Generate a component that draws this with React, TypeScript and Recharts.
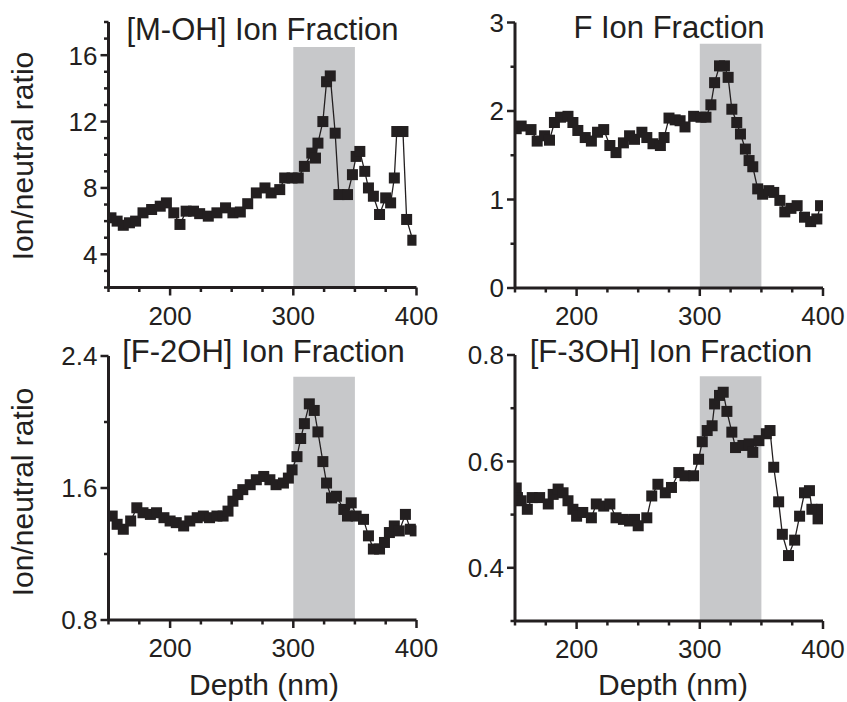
import React from "react";
import { LineChart, Line, XAxis, YAxis, ReferenceArea } from "recharts";

const INK = "#231f20";
const SHADE = "#c7c8ca";
const FONT = "'Liberation Sans', Arial, Helvetica, sans-serif";

// shared depth axis
const depthTicks = [150, 175, 200, 225, 250, 275, 300, 325, 350, 375, 400];
const depthLabels = [200, 300, 400];
const shadeFrom = 300;
const shadeTo = 350;

// [M-OH] ion fraction
const mohDepth = [152, 157, 162, 167, 172, 178, 185, 192, 197, 203, 208, 213, 219, 224, 231, 238, 245, 251, 257, 263, 270, 277, 282, 289, 293, 299, 304, 309, 315, 318, 320, 324, 327, 330, 334, 337, 344, 348, 351, 354, 358, 361, 365, 370, 375, 379, 382, 384, 389, 392, 397];
const mohRatio = [6.2, 6.0, 5.75, 5.9, 6.0, 6.5, 6.7, 6.9, 7.1, 6.5, 5.8, 6.6, 6.6, 6.45, 6.3, 6.5, 6.8, 6.5, 6.55, 7.05, 7.7, 8.0, 7.7, 7.9, 8.6, 8.6, 8.6, 9.3, 10.1, 9.8, 10.7, 12.0, 14.4, 14.75, 11.3, 7.6, 7.6, 8.8, 9.9, 10.2, 9.0, 8.0, 7.5, 6.4, 7.4, 7.1, 8.6, 11.4, 11.4, 6.1, 4.85];
const mohTicks = [2, 3, 4, 5, 6, 7, 8, 9, 10, 11, 12, 13, 14, 15, 16, 17, 18];
const mohLabels = [4, 8, 12, 16];

// F ion fraction
const fDepth = [151, 155, 163, 168, 174, 178, 182, 187, 193, 197, 201, 207, 212, 217, 222, 227, 232, 238, 243, 247, 253, 257, 262, 268, 271, 275, 280, 284, 288, 295, 301, 305, 309, 312, 316, 320, 323, 326, 330, 333, 337, 340, 343, 347, 351, 356, 360, 365, 369, 374, 379, 385, 390, 395, 398];
const fRatio = [1.8, 1.83, 1.79, 1.66, 1.72, 1.67, 1.87, 1.93, 1.94, 1.87, 1.78, 1.7, 1.66, 1.76, 1.79, 1.61, 1.53, 1.64, 1.72, 1.68, 1.76, 1.7, 1.63, 1.61, 1.7, 1.92, 1.9, 1.89, 1.82, 1.94, 1.93, 1.93, 2.07, 2.32, 2.51, 2.51, 2.38, 2.02, 1.87, 1.74, 1.57, 1.44, 1.37, 1.12, 1.06, 1.1, 1.08, 0.99, 0.86, 0.9, 0.93, 0.8, 0.75, 0.78, 0.93];
const fTicks = [0, 0.5, 1, 1.5, 2, 2.5, 3];
const fLabels = [0, 1, 2, 3];

// [F-2OH] ion fraction
const f2Depth = [153, 157, 162, 168, 173, 178, 184, 189, 195, 200, 205, 211, 216, 222, 227, 232, 238, 243, 247, 251, 255, 259, 265, 270, 276, 281, 286, 292, 296, 299, 303, 306, 309, 313, 317, 320, 324, 327, 331, 335, 341, 344, 347, 351, 357, 361, 365, 370, 374, 378, 382, 386, 391, 395, 399];
const f2Ratio = [1.43, 1.38, 1.35, 1.4, 1.48, 1.45, 1.44, 1.45, 1.42, 1.4, 1.39, 1.37, 1.4, 1.42, 1.43, 1.42, 1.43, 1.43, 1.46, 1.52, 1.56, 1.59, 1.62, 1.65, 1.67, 1.65, 1.62, 1.63, 1.66, 1.71, 1.79, 1.9, 1.99, 2.11, 2.07, 1.94, 1.76, 1.63, 1.54, 1.55, 1.47, 1.43, 1.51, 1.43, 1.41, 1.31, 1.23, 1.23, 1.27, 1.33, 1.37, 1.34, 1.44, 1.35, 1.34];
const f2Ticks = [0.8, 1.2, 1.6, 2.0, 2.4];
const f2Labels = [0.8, 1.6, 2.4];

// [F-3OH] ion fraction
const f3Depth = [151, 152, 155, 160, 164, 170, 177, 181, 185, 189, 193, 197, 200, 205, 212, 216, 222, 227, 232, 238, 243, 247, 250, 257, 261, 266, 272, 277, 283, 288, 295, 299, 302, 306, 310, 312, 316, 319, 322, 326, 329, 335, 340, 343, 348, 354, 357, 360, 364, 367, 372, 377, 381, 385, 389, 391, 396, 399];
const f3Ratio = [0.55, 0.532, 0.526, 0.51, 0.532, 0.532, 0.52, 0.538, 0.548, 0.541, 0.526, 0.51, 0.497, 0.504, 0.494, 0.52, 0.516, 0.52, 0.494, 0.491, 0.488, 0.491, 0.479, 0.494, 0.535, 0.557, 0.541, 0.551, 0.579, 0.573, 0.573, 0.604, 0.637, 0.658, 0.667, 0.708, 0.724, 0.73, 0.694, 0.655, 0.626, 0.63, 0.633, 0.617, 0.639, 0.652, 0.658, 0.589, 0.524, 0.463, 0.423, 0.452, 0.497, 0.541, 0.545, 0.51, 0.492, 0.51];
const f3Ticks = [0.3, 0.4, 0.5, 0.6, 0.7, 0.8];
const f3Labels = [0.4, 0.6, 0.8];

const titles = ["[M-OH] Ion Fraction", "F Ion Fraction", "[F-2OH] Ion Fraction", "[F-3OH] Ion Fraction"];
const yTitle = "Ion/neutral ratio";
const xTitle = "Depth (nm)";

function zip(depth: number[], ratio: number[]) {
  return depth.map((d, i) => ({ d, v: ratio[i] }));
}

const renderXTick = (p: any) => {
  const major = depthLabels.includes(p.payload.value);
  return (
    <g key={"xt" + p.payload.value}>
      <line x1={p.x} x2={p.x} y1={p.y} y2={p.y + (major ? 8 : 4.5)} stroke={INK} strokeWidth={2.5} />
      {major && (
        <text x={p.x} y={p.y + 37} textAnchor="middle" fontSize={26} fontFamily={FONT} fill={INK}>
          {p.payload.value}
        </text>
      )}
    </g>
  );
};

const makeYTick = (labels: number[]) => (p: any) => {
  const major = labels.includes(p.payload.value);
  return (
    <g key={"yt" + p.payload.value}>
      <line x1={p.x} x2={p.x - (major ? 8 : 4.5)} y1={p.y} y2={p.y} stroke={INK} strokeWidth={2.5} />
      {major && (
        <text x={p.x - 11} y={p.y} dy="0.36em" textAnchor="end" fontSize={26} fontFamily={FONT} fill={INK}>
          {String(p.payload.value)}
        </text>
      )}
    </g>
  );
};

const Square = (p: any) => {
  if (p.cx == null || p.cy == null) return <g key={p.index} />;
  return <rect key={p.index} x={p.cx - 5.5} y={p.cy - 5.5} width={11} height={11} fill={INK} />;
};

type PanelProps = {
  data: { d: number; v: number }[];
  yDomain: [number, number];
  yTicks: number[];
  yLabels: number[];
  shadeTop: number;
  title: string;
  titleX: number;
  titleY: number;
  left: number;
  top: number;
  width: number;
  height: number;
  margin: { top: number; right: number; bottom: number; left: number };
  yLabelY?: number;
  xLabel?: { x: number; y: number };
};

function Panel(props: PanelProps) {
  const { data, yDomain, yTicks, yLabels, shadeTop, title, titleX, titleY, left, top, width, height, margin, yLabelY, xLabel } = props;
  return (
    <div style={{ position: "absolute", left, top, width, height }}>
      <LineChart width={width} height={height} data={data} margin={margin}>
        <ReferenceArea x1={shadeFrom} x2={shadeTo} y1={yDomain[0]} y2={shadeTop} fill={SHADE} fillOpacity={1} stroke="none" />
        <XAxis
          dataKey="d"
          type="number"
          domain={[150, 400]}
          ticks={depthTicks}
          interval={0}
          height={45}
          tickSize={0}
          tickMargin={0}
          tickLine={false}
          axisLine={{ stroke: INK, strokeWidth: 3 }}
          tick={renderXTick}
          allowDataOverflow
        />
        <YAxis
          type="number"
          domain={yDomain}
          ticks={yTicks}
          interval={0}
          width={70}
          tickSize={0}
          tickMargin={0}
          tickLine={false}
          axisLine={{ stroke: INK, strokeWidth: 3 }}
          tick={makeYTick(yLabels)}
          allowDataOverflow
        />
        <Line
          dataKey="v"
          stroke={INK}
          strokeWidth={1.3}
          dot={Square}
          activeDot={false}
          isAnimationActive={false}
        />
        <text x={titleX} y={titleY} textAnchor="middle" fontSize={31} fontFamily={FONT} fill={INK}>
          {title}
        </text>
        {yLabelY != null && (
          <text
            x={33}
            y={yLabelY}
            textAnchor="middle"
            fontSize={30}
            fontFamily={FONT}
            fill={INK}
            transform={`rotate(-90, 33, ${yLabelY})`}
          >
            {yTitle}
          </text>
        )}
        {xLabel && (
          <text x={xLabel.x} y={xLabel.y} textAnchor="middle" fontSize={30} fontFamily={FONT} fill={INK}>
            {xTitle}
          </text>
        )}
      </LineChart>
    </div>
  );
}

export default function App() {
  return (
    <div style={{ position: "absolute", left: 0, top: 0, width: 847, height: 702, background: "#fff" }}>
      <Panel
        data={zip(mohDepth, mohRatio)}
        yDomain={[2, 18]}
        yTicks={mohTicks}
        yLabels={mohLabels}
        shadeTop={16.5}
        title={titles[0]}
        titleX={262.5}
        titleY={40}
        left={0}
        top={0}
        width={450}
        height={345}
        margin={{ top: 22, right: 33.5, bottom: 12.5, left: 38.5 }}
        yLabelY={156}
      />
      <Panel
        data={zip(fDepth, fRatio)}
        yDomain={[0, 3]}
        yTicks={fTicks}
        yLabels={fLabels}
        shadeTop={2.76}
        title={titles[1]}
        titleX={246}
        titleY={38}
        left={423}
        top={0}
        width={424}
        height={345}
        margin={{ top: 22.5, right: 24, bottom: 12, left: 22 }}
      />
      <Panel
        data={zip(f2Depth, f2Ratio)}
        yDomain={[0.8, 2.4]}
        yTicks={f2Ticks}
        yLabels={f2Labels}
        shadeTop={2.275}
        title={titles[2]}
        titleX={263.5}
        titleY={36.7}
        left={0}
        top={325}
        width={450}
        height={377}
        margin={{ top: 31, right: 33.5, bottom: 37, left: 38.5 }}
        yLabelY={167}
        xLabel={{ x: 264, y: 370 }}
      />
      <Panel
        data={zip(f3Depth, f3Ratio)}
        yDomain={[0.3, 0.8]}
        yTicks={f3Ticks}
        yLabels={f3Labels}
        shadeTop={0.76}
        title={titles[3]}
        titleX={248}
        titleY={36.7}
        left={423}
        top={325}
        width={424}
        height={377}
        margin={{ top: 30, right: 24, bottom: 36, left: 22 }}
        xLabel={{ x: 250, y: 370 }}
      />
    </div>
  );
}
